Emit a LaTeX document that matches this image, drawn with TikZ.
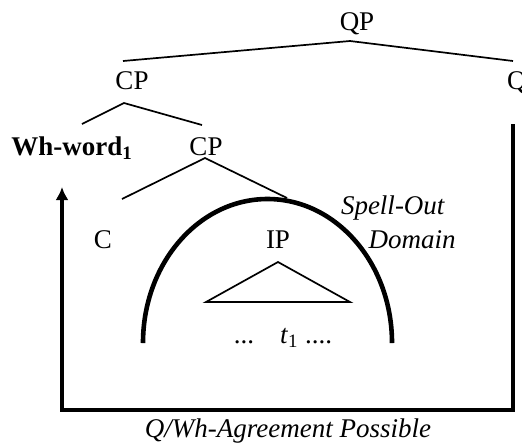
\documentclass[tikz,border=0pt]{standalone}
\usepackage{fontspec}
\setmainfont{Liberation Serif}
\usetikzlibrary{arrows.meta}
\begin{document}
\begin{tikzpicture}[x=0.5pt,y=-0.5pt,
  lbl/.style={inner sep=0pt,outer sep=0pt,anchor=base,font=\fontsize{13.5}{16}\selectfont},
  branch/.style={line width=0.85pt},
  spellarc/.style={line width=2.3pt,line cap=butt},
  frame/.style={line width=1.8pt,line join=miter,-{Latex[length=6.5pt,width=6.5pt]}}]
\useasboundingbox (0,0) rectangle (522,446);
\clip (0,0) rectangle (522,446);
% labels
\node[lbl] (qp) at (357,30) {QP};
\node[lbl] (cp1) at (132,89) {CP};
\node[lbl,anchor=base west] (q) at (507,89) {Q};
\node[lbl] (wh) at (72,155) {\textbf{Wh-word\textsubscript{1}}};
\node[lbl] (cp2) at (206,155) {CP};
\node[lbl] (c) at (103,248) {C};
\node[lbl] (ip) at (278,248) {IP};
\node[lbl] (spell) at (393,214) {\textit{Spell-Out}};
\node[lbl] (dom) at (412,248) {\textit{Domain}};
\node[lbl] (dots1) at (244,343) {...};
\node[lbl,anchor=base west] (t) at (280,343) {\textit{t}\textsubscript{1}};
\node[lbl,anchor=base west] (dots2) at (305,343) {....};
\node[lbl] (agr) at (288,437) {\textit{Q/Wh-Agreement Possible}};
% tree coordinates
\coordinate (qpa) at (350,41);
\coordinate (cp1t) at (123,61);
\coordinate (qt) at (513,61);
\coordinate (cp1a) at (124,103);
\coordinate (wht) at (82,124);
\coordinate (cp2t) at (202,125);
\coordinate (cp2a) at (205,158);
\coordinate (ct) at (122,199);
\coordinate (ipt) at (287,198);
\draw[branch] (cp1t) -- (qpa) -- (qt);
\draw[branch] (wht) -- (cp1a) -- (cp2t);
\draw[branch] (ct) -- (cp2a) -- (ipt);
% triangle under IP
\coordinate (tria) at (278,262);
\coordinate (tril) at (206,302);
\coordinate (trir) at (350,302);
\draw[branch] (tril) -- (tria) -- (trir) -- cycle;
% spell-out domain arc
\coordinate (arcl) at (143,343);
\draw[spellarc] (arcl) arc[start angle=180,end angle=360,x radius=124.5,y radius=144];
% agreement frame
\coordinate (fr) at (513,124);
\coordinate (fl) at (62,187);
\coordinate (bot) at (0,410);
\draw[frame] (fr) -- (fr |- bot) -- (fl |- bot) -- (fl);
\end{tikzpicture}
\end{document}
